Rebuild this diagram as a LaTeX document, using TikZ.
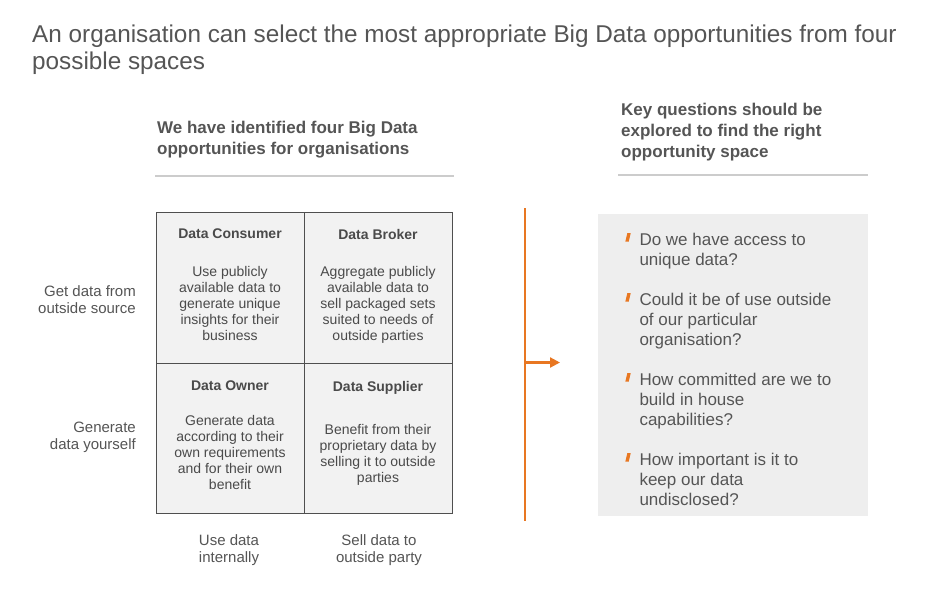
\documentclass[tikz,border=0pt]{standalone}
\usepackage{fontspec}
\setmainfont{Liberation Sans}
\usetikzlibrary{arrows.meta}
\definecolor{txt}{HTML}{555555}
\definecolor{dtxt}{HTML}{4A4A4A}
\definecolor{orng}{HTML}{E87722}
\definecolor{quadfill}{HTML}{F2F2F2}
\definecolor{boxfill}{HTML}{EEEEEE}
\definecolor{rulecol}{HTML}{CCCCCC}
\definecolor{gridcol}{HTML}{4F4F4F}
\begin{document}
\begin{tikzpicture}[x=1pt,y=-1pt,
  lbl/.style={inner sep=0pt, text=txt},
  headtxt/.style={lbl, anchor=north west, align=left, font=\bfseries\fontsize{17}{21}\selectfont},
  quad/.style={draw=gridcol, fill=quadfill, line width=1.2pt, inner sep=0pt, anchor=north west, minimum width=148pt},
  qtitle/.style={lbl, text=dtxt, anchor=north, font=\bfseries\fontsize{14}{16}\selectfont},
  qbody/.style={lbl, text=dtxt, anchor=north, align=center, font=\fontsize{14}{16}\selectfont},
  axis/.style={lbl, font=\fontsize{15}{17}\selectfont},
  question/.style={lbl, anchor=north west, align=left, font=\fontsize{17}{20}\selectfont},
  hrule/.style={draw=rulecol, line width=2pt},
  orangeline/.style={draw=orng, line width=2.2pt},
]
\useasboundingbox (0,0) rectangle (950,600);
\fill[white] (0,0) rectangle (950,600);

% title
\node[lbl, anchor=north west, align=left, font=\fontsize{24.3}{27}\selectfont] (title) at (32,25)
  {An organisation can select the most appropriate Big Data opportunities from four\\possible spaces};

% headings
\node[headtxt] (lhead) at (157,121) {We have identified four Big Data\\opportunities for organisations};
\node[headtxt] (rhead) at (621,103.3) {Key questions should be\\explored to find the right\\opportunity space};
\coordinate (lr1) at (155,176); \coordinate (lr2) at (454,176);
\coordinate (rr1) at (618,175); \coordinate (rr2) at (868,175);
\draw[hrule] (lr1) -- (lr2);
\draw[hrule] (rr1) -- (rr2);

% quadrants
\node[quad, minimum height=151pt] (dc) at (156,212) {};
\node[quad, minimum height=151pt] (db) at (304,212) {};
\node[quad, minimum height=150pt] (do) at (156,363) {};
\node[quad, minimum height=150pt] (ds) at (304,363) {};

\node[qtitle] (dct) at (230,229) {Data Consumer};
\node[qbody] (dcb) at (230,265.7) {Use publicly\\available data to\\generate unique\\insights for their\\business};
\node[qtitle] (dbt) at (378,229) {Data Broker};
\node[qbody] (dbb) at (378,265.7) {Aggregate publicly\\available data to\\sell packaged sets\\suited to needs of\\outside parties};
\node[qtitle] (dot) at (230,380.7) {Data Owner};
\node[qbody] (dob) at (230,415) {Generate data\\according to their\\own requirements\\and for their own\\benefit};
\node[qtitle] (dst) at (378,380.7) {Data Supplier};
\node[qbody] (dsb) at (378,424.3) {Benefit from their\\proprietary data by\\selling it to outside\\parties};

% axis labels
\node[axis, anchor=north east, align=right] (ax1) at (136,285) {Get data from\\outside source};
\node[axis, anchor=north east, align=right] (ax2) at (136,422) {Generate\\data yourself};
\node[axis, anchor=north, align=center] (ax3) at (229,534.5) {Use data\\internally};
\node[axis, anchor=north, align=center] (ax4) at (379,534.5) {Sell data to\\outside party};

% orange connector
\coordinate (otop) at (525,208);
\coordinate (obot) at (525,521);
\coordinate (omid) at (525,362.5);
\coordinate (otip) at (560,362.5);
\draw[orangeline] (otop) -- (obot);
\draw[orangeline, -{Triangle[length=10pt,width=10pt]}] (omid) -- (otip);

% questions box
\node[fill=boxfill, inner sep=0pt, anchor=north west, minimum width=270pt, minimum height=302pt] (qbox) at (598,214) {};
\node[question] (q1) at (639.3,233) {Do we have access to\\unique data?};
\node[question] (q2) at (639.3,293) {Could it be of use outside\\of our particular\\organisation?};
\node[question] (q3) at (639.3,373) {How committed are we to\\build in house\\capabilities?};
\node[question] (q4) at (639.3,453) {How important is it to\\keep our data\\undisclosed?};
\foreach \q in {q1,q2,q3,q4}{
  \fill[orng] ([shift={(-14,8.7)}]\q.north west) -- ([shift={(-10.6,8.7)}]\q.north west)
    -- ([shift={(-8.6,0.2)}]\q.north west) -- ([shift={(-12,0.2)}]\q.north west) -- cycle;
}
\end{tikzpicture}
\end{document}
